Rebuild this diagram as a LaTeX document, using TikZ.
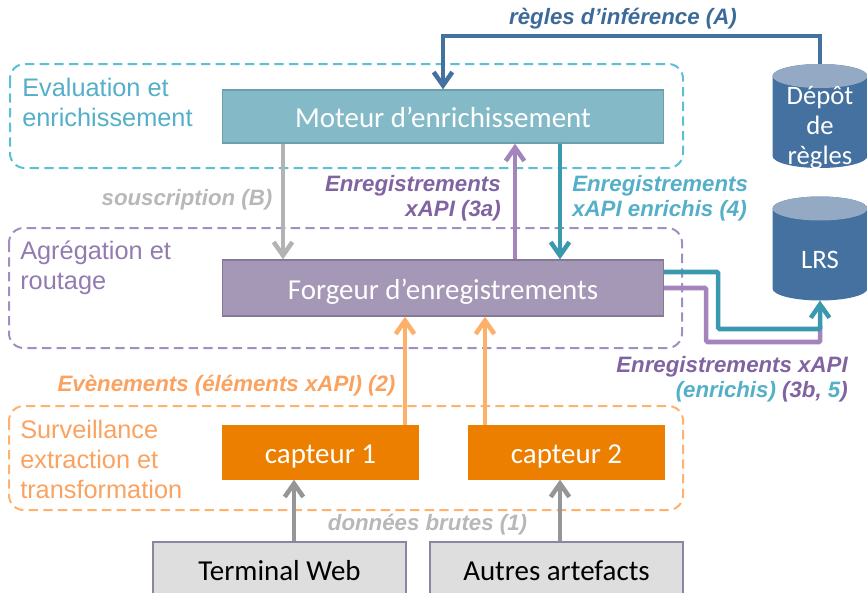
\documentclass[tikz,border=0pt]{standalone}
\usepackage{fontspec}
\setmainfont{Liberation Sans}
\newfontfamily\boxfont{Carlito}
\usepackage{xcolor}
\usetikzlibrary{arrows.meta}

\definecolor{moteurfill}{HTML}{84BAC8}
\definecolor{moteurline}{HTML}{6A9FAC}
\definecolor{forgeurfill}{HTML}{A597B6}
\definecolor{forgeurline}{HTML}{857899}
\definecolor{capteurfill}{HTML}{EC7E00}
\definecolor{sourcefill}{HTML}{DEDEDE}
\definecolor{sourceline}{HTML}{8C85A0}
\definecolor{depotfill}{HTML}{44719F}
\definecolor{depottop}{HTML}{93A9C4}
\definecolor{cyanzone}{HTML}{5CBFD6}
\definecolor{purplezone}{HTML}{A38FBF}
\definecolor{orangezone}{HTML}{FFB26F}
\definecolor{cyantext}{HTML}{54AFC8}
\definecolor{purpletext}{HTML}{8064A2}
\definecolor{orangetext}{HTML}{FAA260}
\definecolor{graytext}{HTML}{B8B8B8}
\definecolor{bluetext}{HTML}{3D6A98}
\definecolor{tealarrow}{HTML}{3A99AE}
\definecolor{purplearrow}{HTML}{A385BB}
\definecolor{orangearrow}{HTML}{FDB168}
\definecolor{grayarrow}{HTML}{969696}
\definecolor{lightarrow}{HTML}{B3B3B3}

\tikzset{
    zone/.style={
        line width=1.5pt,
        rounded corners=11pt,
        dash pattern=on 7pt off 4pt
    },
    flow/.style={
        -{Straight Barb[length=10pt,width=14pt,line width=3.4pt]},
        line width=3.4pt
    },
    bloc/.style={
        draw,
        line width=1pt,
        inner sep=0pt,
        text=white,
        text height=17pt,
        text depth=0pt,
        font=\boxfont\fontsize{21.7}{24}\selectfont
    },
    depottext/.style={
        inner sep=0pt,
        align=center,
        text=white,
        font=\boxfont\fontsize{20}{22.5}\selectfont
    },
    zonetext/.style={
        anchor=west,
        inner sep=0pt,
        align=left,
        font=\fontsize{19}{22.5}\selectfont
    },
    flowtext/.style={
        inner sep=0pt,
        font=\bfseries\itshape\fontsize{16.7}{18.75}\selectfont
    },
    depot/.pic={
        \fill[depotfill] (-35.6pt,30pt) -- (-35.6pt,-30pt)
            arc[start angle=180,end angle=360,x radius=35.6pt,y radius=9pt]
            -- (35.6pt,30pt)
            arc[start angle=0,end angle=180,x radius=35.6pt,y radius=9pt] -- cycle;
        \fill[depottop] (0pt,30pt) ellipse[x radius=35.6pt,y radius=9pt];
        \coordinate (-top) at (0pt,39pt);
        \coordinate (-bottom) at (0pt,-39pt);
        \node[depottext] (-text) at (0pt,-8.5pt) {#1};
    }
}

\begin{document}
\begin{tikzpicture}[x=0.75pt,y=-0.75pt]
                \useasboundingbox (0,0) rectangle (867,596);
                \clip (0,0) rectangle (867,592);

                % zones
                \draw[zone, cyanzone] (10,64) rectangle (683,168);
                \draw[zone, purplezone] (9,228) rectangle (682,348);
                \draw[zone, orangezone] (9,406) rectangle (683,510);

                \node[zonetext, text=cyantext] (evaltext) at (22,102) {Evaluation et\\enrichissement};
                \node[zonetext, text=purpletext!85] (agregtext) at (20,268) {Agrégation et\\routage};
                \node[zonetext, text=orangetext] (survtext) at (20,459) {Surveillance\\extraction et\\transformation};

                % blocs
                \node[
                    bloc,
                    draw=moteurline,
                    fill=moteurfill,
                    minimum width=330.75pt,
                    minimum height=39.75pt
                ] (moteur) at (443,116.5) {Moteur d’enrichissement};

                \node[
                    bloc,
                    draw=forgeurline,
                    fill=forgeurfill,
                    minimum width=330.75pt,
                    minimum height=42pt
                ] (forgeur) at (443,288) {Forgeur d’enregistrements};

                \node[
                    bloc,
                    draw=capteurfill,
                    fill=capteurfill,
                    minimum width=147pt,
                    minimum height=39.75pt
                ] (capteurA) at (320.5,452.5) {capteur 1};

                \node[
                    bloc,
                    draw=capteurfill,
                    fill=capteurfill,
                    minimum width=147pt,
                    minimum height=39.75pt
                ] (capteurB) at (566.5,452.5) {capteur 2};

                \node[
                    bloc,
                    draw=sourceline,
                    fill=sourcefill,
                    text=black,
                    minimum width=189.75pt,
                    minimum height=40.5pt
                ] (terminal) at (279.5,569) {Terminal Web};

                \node[
                    bloc,
                    draw=sourceline,
                    fill=sourcefill,
                    text=black,
                    minimum width=189.75pt,
                    minimum height=40.5pt
                ] (artefacts) at (556.5,569) {Autres artefacts};

                \pic (regles) at (820,116) {depot={Dépôt\\de\\règles}};
                \pic (lrs) at (820,248.5) {depot={LRS}};

                % abscisses des flux
                \coordinate (xregles) at (443,36);
                \coordinate (xsous) at (283,0);
                \coordinate (xtroisa) at (515,0);
                \coordinate (xquatre) at (560,0);
                \coordinate (xevtA) at (405,0);
                \coordinate (xevtB) at (485,0);
                \coordinate (xbrutA) at (294,0);
                \coordinate (xbrutB) at (560,0);
                \coordinate (ysortieA) at (0,272);
                \coordinate (ysortieB) at (0,288);

                % flux
                \draw[flow, depotfill] (regles-top) |- (xregles) -- (moteur.north -| xregles);
                \draw[flow, lightarrow] (moteur.south -| xsous) -- (forgeur.north -| xsous);
                \draw[flow, purplearrow] (forgeur.north -| xtroisa) -- (moteur.south -| xtroisa);
                \draw[flow, tealarrow] (moteur.south -| xquatre) -- (forgeur.north -| xquatre);
                \draw[flow, orangearrow] (capteurA.north -| xevtA) -- (forgeur.south -| xevtA);
                \draw[flow, orangearrow] (capteurB.north -| xevtB) -- (forgeur.south -| xevtB);
                \draw[flow, grayarrow] (terminal.north -| xbrutA) -- (capteurA.south -| xbrutA);
                \draw[flow, grayarrow] (artefacts.north -| xbrutB) -- (capteurB.south -| xbrutB);

                \draw[
                    line width=3.4pt,
                    purplearrow,
                    rounded corners=1pt
                ] (forgeur.east |- ysortieB) -- ++(42,0) -- ++(0,54) -- ++(114,0) -- ++(0,-16);
                \draw[
                    flow,
                    tealarrow,
                    rounded corners=1pt
                ] (forgeur.east |- ysortieA) -- ++(54,0) -- ++(0,57) -- ++(102,0) -- (lrs-bottom);

                % textes
                \node[flowtext, text=bluetext] (tregles) at (623,19) {règles d’inférence (A)};
                \node[flowtext, text=graytext] (tsous) at (187,200) {souscription (B)};
                \node[flowtext, text=purpletext, align=right, anchor=east] (ttroisa) at (501,198) {Enregistrements\\xAPI (3a)};
                \node[flowtext, text=cyantext, align=left, anchor=west] (tquatre) at (572,198) {Enregistrements\\xAPI enrichis (4)};
                \node[flowtext, text=orangetext] (tevt) at (226.5,386) {Evènements (éléments xAPI) (2)};
                \node[flowtext, text=graytext] (tbrut) at (427.5,525) {données brutes (1)};
                \node[flowtext, text=purpletext, align=right, anchor=east] (tlrs) at (848,379) {Enregistrements xAPI\\\textcolor{cyantext}{(enrichis)} (3b, \textcolor{cyantext}{5})};

            \end{tikzpicture}
\end{document}
